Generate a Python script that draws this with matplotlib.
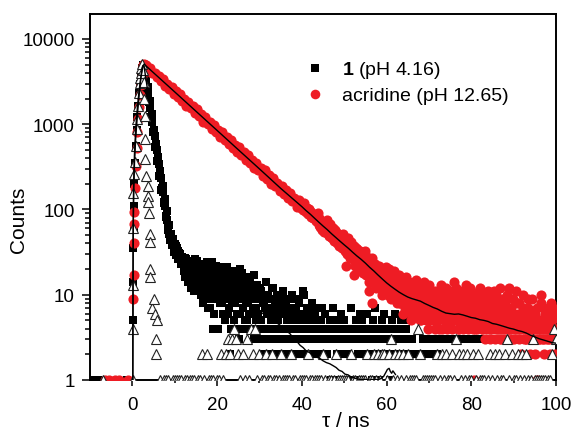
import numpy as np
import matplotlib
matplotlib.use("Agg")
import matplotlib.pyplot as plt
from matplotlib.ticker import FixedLocator, FixedFormatter, LogLocator, NullFormatter

plt.rcParams['font.family'] = ['Liberation Sans', 'DejaVu Sans']
plt.rcParams['mathtext.fontset'] = 'custom'
plt.rcParams['mathtext.rm'] = 'Liberation Sans'
plt.rcParams['mathtext.bf'] = 'Liberation Sans:bold'

# ---------------- data ----------------
# acridine (pH 12.65), red circles
red_t_early = [-6.5, -5.5, -4.0, -3.2, -1.0]
red_early = [1, 1, 1, 1, 1]
red_t_rise = [0.25, 0.3, 0.35, 0.4, 0.5, 0.65, 0.8, 1.0, 1.2, 1.4, 1.6, 1.8, 2.0, 2.2, 2.4, 2.6]
red_rise = [9, 17, 40, 67, 93, 180, 320, 520, 800, 1150, 1600, 2200, 2900, 3700, 4400, 4900]
red_a_start, red_a_step = 2.75, 0.5
red_decay_a = [5020, 4905, 4430, 4510, 3955, 4030, 3530, 3700, 3245, 3365,
               2835, 2980, 2605, 2760, 2280, 2440, 2095, 2260, 1850, 1965,
               1650, 1820, 1535, 1625, 1340, 1495, 1235, 1310, 1075, 1225,
               1015, 1075, 885, 985, 805, 865, 710, 810, 660, 715,
               585, 650, 530, 575, 470, 535, 435, 470, 385, 435,
               350, 380, 305, 355, 290, 310, 250, 290, 230, 255,
               200, 235, 190, 205, 165, 190, 150, 170, 135, 155,
               125, 137, 108, 128, 103]
red_b_start, red_b_step = 40.0, 0.25
red_decay_b = [112, 99, 118, 104, 93, 104, 88, 101, 95, 82, 90, 79, 84, 73, 80, 90,
               66, 75, 69, 62, 70, 58, 66, 61, 53, 62, 49, 60, 57, 47, 55, 44,
               50, 42, 52, 45, 39, 46, 36, 44, 41, 34, 22, 40, 31, 38, 29, 36,
               34, 17, 28, 33, 31, 25, 27, 33, 22, 28, 24, 30, 26, 20, 24, 11,
               19, 23, 8, 21, 22, 16, 20, 17, 15, 19, 14, 18, 17, 13, 16, 12,
               15, 11, 14, 18, 10, 13, 16, 12, 14, 9, 12, 10, 12, 8, 11, 15,
               9, 13, 7, 11, 12, 8, 10, 6, 9, 13, 7, 10, 6, 11, 8, 12,
               9, 5, 10, 7, 12, 6, 8, 4, 9, 5, 11, 7, 6, 8, 4, 10,
               7, 5, 9, 13, 4, 8, 6, 10, 7, 4, 9, 5, 11, 6, 4, 8,
               5, 7, 12, 4, 8, 5, 10, 6, 4, 9, 6, 13, 7, 4, 5, 10,
               6, 8, 4, 1, 9, 4, 6, 11, 5, 7, 4, 8, 10, 3, 6, 4,
               5, 8, 3, 7, 4, 6, 3, 10, 7, 4, 5, 3, 3, 9, 4, 6,
               5, 3, 7, 4, 12, 4, 3, 6, 3, 5, 4, 8, 6, 3, 4, 2,
               4, 7, 3, 5, 3, 4, 9, 2, 5, 3, 4, 6, 2, 4, 1, 3,
               5, 3, 8, 4, 3, 2, 6, 4, 4, 3, 2, 5, 3, 7, 4, 2,
               4]
red_c_start, red_c_step = 44.125, 0.25
red_decay_c = [80, 63, 74, 58, 55, 71, 60, 76, 64, 51, 67, 47, 46, 60, 43, 57,
               54, 40, 49, 37, 48, 35, 51, 39, 33, 44, 30, 46, 40, 27, 42, 32,
               26, 37, 22, 35, 34, 21, 32, 19, 30, 18, 27, 33, 17, 28, 21, 14,
               25, 15, 27, 18, 14, 23, 12, 21, 22, 12, 19, 10, 11, 19, 13, 21,
               17, 10, 20, 12, 9, 16, 11, 19, 15, 8, 13, 17, 8, 14, 10, 6,
               13, 7, 16, 9, 7, 14, 11, 5, 12, 6, 10, 15, 10, 7, 13, 5,
               6, 12, 8, 14, 9, 5, 11, 7, 13, 6, 8, 5, 5, 11, 7, 9,
               10, 4, 8, 6, 7, 11, 5, 9, 12, 6, 8, 5, 5, 9, 7, 14,
               8, 6, 10, 5, 4, 11, 7, 9, 6, 8, 5, 11, 9, 6, 12, 5,
               5, 10, 7, 4, 7, 5, 9, 6, 12, 6, 4, 9, 5, 8, 6, 11,
               7, 4, 9, 5, 6, 11, 5, 7, 4, 8, 6, 12, 7, 5, 4, 8,
               6, 10, 4, 5, 4, 7, 5, 9, 6, 4, 11, 5, 4, 8, 5, 6,
               10, 4, 6, 3, 5, 7, 4, 6, 4, 9, 3, 5, 6, 4, 7, 3,
               4, 10, 5, 3, 7, 4, 3, 5, 3, 6, 4, 8, 5, 3, 6, 4]

# compound 1 (pH 4.16), black squares
black_t_early = [-9.0, -8.0, -1.2]
black_early = [1, 1, 1]
black_t_rise = [0.15, 0.2, 0.25, 0.3, 0.4, 0.5, 0.65, 0.8, 1.0, 1.2, 1.4, 1.6, 1.8, 2.0, 2.2, 2.4]
black_rise = [5, 14, 35, 60, 110, 200, 350, 560, 850, 1200, 1650, 2300, 3000, 3800, 4500, 4950]
black_fast_start, black_fast_step = 2.75, 0.25
black_fast = [4800, 3900, 3330, 2640, 2290, 1800, 1560, 1230, 1070, 835,
              730, 570, 495, 388, 340, 262, 232, 178, 160, 121,
              110, 84, 75, 62, 52, 49, 43, 41, 37, 35,
              37, 30, 33, 27, 30, 24, 28]
black_fast2_start, black_fast2_step = 2.875, 0.25
black_fast2 = [4100, 3900, 2700, 2750, 1800, 1850, 1200, 1300, 800, 860,
               540, 590, 370, 410, 250, 280, 170, 190, 118, 132,
               82, 95, 58, 66, 44, 52, 38, 45, 32, 39,
               29, 35, 26, 31, 23, 27]
black_tail_start, black_tail_step = 12.0, 0.25
black_tail = [24, 19, 27, 17, 21, 15, 25, 18, 13, 22, 17, 26, 11, 19, 14, 23,
              16, 10, 21, 13, 9, 18, 24, 12, 15, 7, 20, 11, 4, 17, 13, 22,
              10, 4, 16, 8, 19, 12, 6, 14, 9, 21, 11, 7, 2, 15, 8, 13,
              5, 18, 10, 6, 12, 3, 20, 9, 7, 14, 5, 11, 16, 8, 6, 12,
              4, 10, 7, 17, 9, 5, 13, 6, 3, 11, 4, 8, 2, 7, 14, 3,
              10, 4, 6, 2, 5, 12, 3, 8, 4, 7, 2, 9, 6, 3, 11, 4,
              2, 8, 5, 3, 7, 4, 2, 10, 3, 6, 4, 2, 9, 3, 5, 4,
              2, 11, 4, 6, 3, 7, 2, 5, 4, 2, 8, 3, 6, 4, 3, 2,
              3, 5, 2, 7, 4, 2, 6, 3, 2, 4, 3, 5, 1, 7, 3, 4,
              4, 2, 5, 1, 3, 6, 2, 4, 5, 3, 1, 2, 2, 4, 7, 3,
              3, 1, 4, 5, 4, 2, 3, 6, 1, 5, 2, 4, 3, 4, 6, 2,
              2, 3, 1, 5, 4, 7, 2, 3, 3, 1, 4, 2, 5, 2, 6, 3,
              2, 4, 3, 1, 3, 5, 2, 4, 6, 3, 4, 2, 2, 4, 5, 3,
              3, 2, 4, 5, 3]
black_tail2_start, black_tail2_step = 12.125, 0.25
black_tail2 = [22, 16, 26, 20, 14, 23, 19, 12, 20, 15, 11, 24, 17, 25, 12, 20,
               13, 19, 8, 16, 22, 11, 15, 7, 12, 18, 9, 24, 14, 6, 19, 11,
               17, 9, 13, 21, 8, 15, 10, 5, 13, 18, 6, 16, 10, 4, 12, 19,
               8, 14, 4, 11, 15, 6, 9, 18, 10, 4, 13, 8, 5, 11, 9, 14,
               12, 6, 3, 9, 7, 13, 4, 10, 12, 5, 9, 4, 8, 3, 10, 6,
               4, 9, 5, 12, 7, 2, 6, 4, 10, 5, 3, 8, 3, 6, 4, 9,
               7, 4, 6, 3, 5, 9, 3, 6, 4, 2, 7, 5, 3, 8, 4, 2,
               6, 3, 10, 4, 5, 4, 2, 7, 3, 6, 4, 5, 2, 5, 7, 3,
               4, 3, 5, 2]
black_t_late = [65.5, 66.0, 66.5, 67.0, 67.5, 68.0, 68.5, 69.0, 69.5, 70.0, 70.5, 71.0,
                71.5, 72.0, 72.5, 73.5, 74.5, 75.5, 76.5, 77.5, 78.5, 79.5, 80.5, 81.5,
                82.5, 83.5, 84.5]
black_late = [2, 3, 2, 2, 2, 2, 3, 2, 3, 2, 3, 2, 3, 2, 3, 3, 3, 3, 3, 3, 3, 3, 3, 3, 3, 3, 3]

# instrument response (open triangles)
irf_t_early = [-7.0]
irf_early = [1]
irf_t_peak = [0.05, 0.1, 0.12, 0.15, 0.17, 0.4, 0.6, 0.8, 1.0, 1.2,
              1.4, 1.55, 1.7, 1.85, 1.95, 2.1, 2.2, 2.45, 2.65, 2.85,
              2.97, 3.0, 3.1, 3.3, 3.6, 3.75, 3.8, 3.95, 4.05, 4.1,
              4.15, 4.2, 4.7, 5.1, 5.3, 5.5, 5.6, 5.9]
irf_peak = [1, 4, 13, 60, 158, 260, 357, 560, 870, 1150,
            1630, 2350, 3070, 3500, 4000, 4600, 5060, 4300, 3100, 2000,
            1250, 668, 390, 248, 190, 145, 122, 92, 51, 42,
            20, 16, 7, 9, 6, 3, 2, 5]
irf_tail_start, irf_tail_step = 6.0, 0.5
irf_tail = [0, 1, 0, 1, 1, 1, 0, 1, 1, 1,
            1, 1, 0, 1, 1, 1, 1, 1, 0, 1,
            1, 2, 1, 2, 1, 1, 1, 0, 1, 1,
            2, 1, 2, 3, 2, 3, 4, 3, 2, 1,
            2, 1, 3, 1, 4, 2, 4, 1, 2, 1,
            1, 2, 1, 1, 2, 1, 1, 1, 2, 1,
            1, 1, 1, 2, 1, 1, 0, 1, 1, 1,
            1, 2, 1, 1, 1, 1, 1, 1, 2, 1,
            0, 1, 1, 1, 2, 1, 1, 1, 1, 1,
            1, 2, 1, 1, 0, 1, 1, 1, 1, 2,
            1, 1, 2, 1, 2, 1, 2, 2, 1, 2,
            3, 1, 2, 1, 2, 1, 2, 1, 2, 1,
            1, 1, 1, 4, 2, 1, 1, 1, 1, 1,
            1, 1, 2, 1, 2, 1, 2, 1, 1, 2,
            1, 3, 2, 1, 2, 1, 2, 1, 1, 2,
            1, 2, 1, 1, 1, 0, 1, 2, 1, 2,
            1, 2, 1, 1, 2, 3, 1, 2, 1, 1,
            2, 1, 2, 1, 2, 1, 1, 3, 1, 1,
            1, 1, 1, 1, 1, 1, 2, 4, 3]

# fitted curves (black lines)
fit_red_t_early = [0.1, 0.12, 0.15, 0.2, 0.3, 0.5, 0.8, 1.2, 1.6, 2.0, 2.4, 2.75,
                   5, 10, 15, 20, 25, 30, 35]
fit_red_early = [1, 4, 15, 60, 200, 450, 900, 1600, 2500, 3500, 4500, 5070,
                 4010, 2390, 1420, 845, 502, 299, 177]
fit_red_late_start = 40
fit_red_late = [108, 97, 88, 79, 71, 64, 58, 52, 47, 42.5, 38.5, 35, 31.5, 28.5, 26, 23.5,
                21, 19, 17, 15.3, 13.8, 12.6, 11.6, 10.7, 10.0, 9.4, 9.0, 8.7, 8.4, 7.9,
                7.5, 7.1, 6.8, 6.4, 6.1, 6.0, 5.9, 5.95, 5.8, 5.6, 5.4, 5.3, 5.1, 5.0,
                4.85, 4.6, 4.5, 4.35, 4.2, 4.05, 3.95, 3.8, 3.7, 3.55, 3.35, 3.2, 3.05,
                2.95, 2.85, 2.75, 2.7]
fit_black_t = [0.1, 0.13, 0.17, 0.2, 0.3, 0.5, 0.8, 1.2, 1.6, 2.0,
               2.3, 2.5, 2.75, 3.5, 4.5, 5.5, 6.5, 7.5, 8.5, 9.5,
               10.5, 11.5, 13, 15, 17.5, 20, 22.5, 25, 27.5, 30,
               32.5, 35, 36.5, 37.3, 38, 38.8, 39.6, 40.3, 41, 41.8,
               42.7, 43.5, 44.2, 45, 45.8, 46.6, 47.4, 48.1, 48.8, 49.5,
               50.2, 50.9, 51.6, 52.3, 53, 54, 55, 56, 57, 58,
               58.7, 59.3, 59.8, 60.2, 60.6, 60.9, 61.2, 61.5, 61.8, 62.1]
fit_black = [1, 4, 15, 50, 150, 350, 700, 1300, 2200, 3500,
             4600, 4900, 4800, 2700, 1260, 586, 273, 127, 62, 40,
             31, 26, 21, 17, 14, 12, 10.5, 9, 7.6, 6.4,
             5.3, 4.35, 3.75, 3.45, 3.05, 2.85, 2.55, 2.4, 2.2, 2.1,
             1.95, 1.85, 1.8, 1.68, 1.6, 1.55, 1.47, 1.4, 1.3, 1.26,
             1.17, 1.15, 1.09, 1.06, 1.03, 1.01, 1.02, 1.0, 1.02, 1.01,
             1.04, 1.1, 1.22, 1.33, 1.37, 1.26, 1.2, 1.28, 1.22, 1.16]

legend_labels = [r"$\mathbf{1}$ (pH 4.16)", "acridine (pH 12.65)"]
x_major = [0, 20, 40, 60, 80, 100]
x_minor = [10, 30, 50, 70, 90]
y_major = [1, 10, 100, 1000, 10000]
y_labels = ["1", "10", "100", "1000", "10000"]


def grid(start, step, values):
    return start + step * np.arange(len(values))


def keep_positive(t, v):
    t = np.asarray(t, float)
    v = np.asarray(v, float)
    m = v > 0
    return t[m], v[m]


red_t = np.concatenate([red_t_early, red_t_rise,
                        grid(red_a_start, red_a_step, red_decay_a),
                        grid(red_b_start, red_b_step, red_decay_b),
                        grid(red_c_start, red_c_step, red_decay_c)])
red_v = np.concatenate([red_early, red_rise, red_decay_a, red_decay_b, red_decay_c])
blk_t = np.concatenate([black_t_early, black_t_rise,
                        grid(black_fast_start, black_fast_step, black_fast),
                        grid(black_fast2_start, black_fast2_step, black_fast2),
                        grid(black_tail_start, black_tail_step, black_tail),
                        grid(black_tail2_start, black_tail2_step, black_tail2),
                        black_t_late])
blk_v = np.concatenate([black_early, black_rise, black_fast, black_fast2,
                        black_tail, black_tail2, black_late])
irf_t = np.concatenate([irf_t_early, irf_t_peak, grid(irf_tail_start, irf_tail_step, irf_tail)])
irf_v = np.concatenate([irf_early, irf_peak, irf_tail])
irf_t, irf_v = keep_positive(irf_t, irf_v)

fr_t = np.concatenate([fit_red_t_early, grid(fit_red_late_start, 1, fit_red_late)])
fr_v = np.concatenate([fit_red_early, fit_red_late])

# ---------------- figure ----------------
fig = plt.figure(figsize=(5.73, 4.31), dpi=100)
ax = fig.add_axes([90 / 573, 50 / 431, 466 / 573, 366 / 431])
ax.set_yscale('log')

h_black, = ax.plot(blk_t, blk_v, linestyle='none', marker='s', ms=5.4,
                   mfc='black', mec='black', mew=0, zorder=2)
h_red, = ax.plot(red_t, red_v, linestyle='none', marker='o', ms=7.3,
                 mfc='#ee1c24', mec='#ee1c24', mew=0, zorder=3)
ax.plot(irf_t, irf_v, linestyle='none', marker='^', ms=7.0,
        mfc='white', mec='#222222', mew=0.8, zorder=4)
ax.plot(fr_t, fr_v, color='black', lw=1.0, zorder=5)
ax.plot(fit_black_t, fit_black, color='black', lw=1.0, zorder=5)

ax.set_xlim(-10, 100)
ax.set_ylim(1, 19600)

ax.xaxis.set_major_locator(FixedLocator(x_major))
ax.xaxis.set_minor_locator(FixedLocator(x_minor))
ax.yaxis.set_major_locator(FixedLocator(y_major))
ax.yaxis.set_major_formatter(FixedFormatter(y_labels))
ax.yaxis.set_minor_locator(LogLocator(base=10, subs=np.arange(2, 10)))
ax.yaxis.set_minor_formatter(NullFormatter())

ax.tick_params(axis='both', which='both', direction='out', width=1.1,
               labelsize=13.5, top=False, right=False)
ax.tick_params(axis='y', which='major', length=6, pad=5)
ax.tick_params(axis='y', which='minor', length=3.5)
ax.tick_params(axis='x', which='major', length=4.5, pad=7)
ax.tick_params(axis='x', which='minor', length=2.5)
for sp in ax.spines.values():
    sp.set_linewidth(1.4)

ax.set_xlabel("τ / ns", fontsize=15)
ax.set_ylabel("Counts", fontsize=15)
ax.xaxis.set_label_coords(0.549, -0.085)
ax.yaxis.set_label_coords(-0.133, 0.44)

ax.legend([h_black, h_red], legend_labels, loc='upper left',
          bbox_to_anchor=(0.462, 0.876), frameon=False, fontsize=14,
          handlelength=1.0, handletextpad=0.9, labelspacing=0.33,
          borderpad=0, borderaxespad=0, markerscale=0.95)

fig.savefig("out.png", dpi=100)
